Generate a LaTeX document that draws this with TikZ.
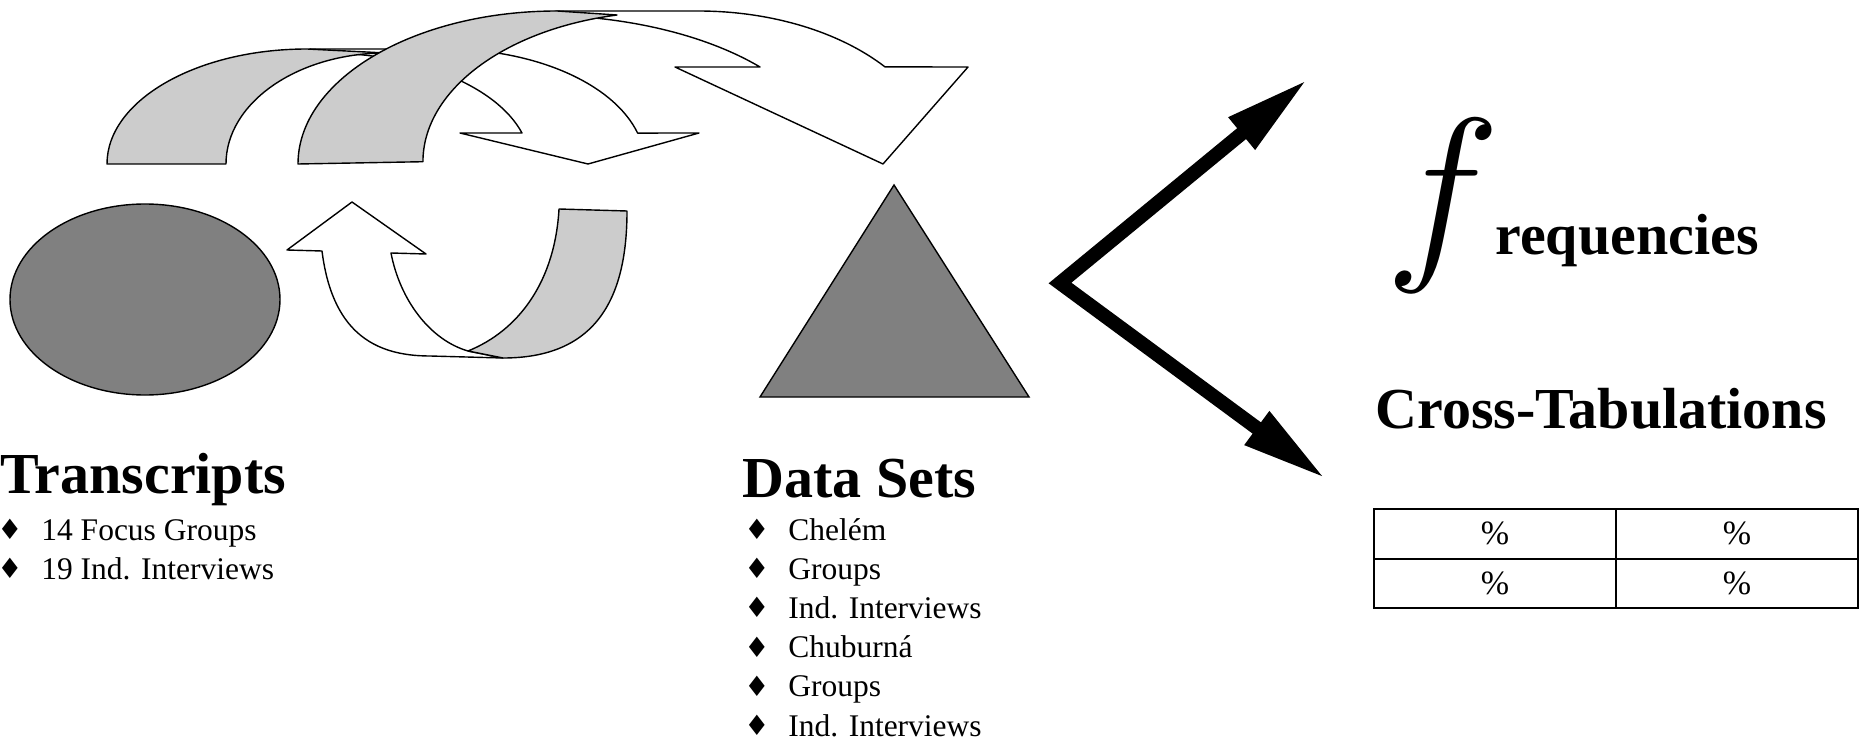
\documentclass[tikz,border=0pt]{standalone}
\usepackage{fix-cm}
\usepackage{fontspec}
\setmainfont{Liberation Serif}
\newfontfamily\djv{DejaVu Sans}
\usetikzlibrary{shapes.geometric,arrows.meta}
\definecolor{lgrey}{RGB}{204,204,204}
\definecolor{dgrey}{RGB}{128,128,128}
\newcommand{\dia}{\makebox[22pt][l]{\raisebox{0.3pt}{\fontsize{14}{14}\djv ♦}}}
\tikzset{every picture/.style={x=0.5pt,y=-0.5pt}}
\tikzset{band/.style={draw,line width=0.7pt,fill=white,line join=round}}
\tikzset{back/.style={band,fill=lgrey}}
\tikzset{blob/.style={draw,line width=0.7pt,fill=dgrey}}
\tikzset{head/.style={font=\fontsize{29}{30}\selectfont\bfseries,anchor=base west,inner sep=0}}
\tikzset{item/.style={font=\fontsize{15.75}{18}\selectfont,anchor=base west,inner sep=0}}
\tikzset{cell/.style={draw,line width=1pt,minimum width=121pt,minimum height=24.75pt,inner sep=0,font=\fontsize{17}{17}\selectfont}}
\tikzset{fork/.style={line width=7pt,line join=miter,{Triangle[length=43pt,width=19pt]}-{Triangle[length=43pt,width=19pt]}}}

\begin{document}
\begin{tikzpicture}
\useasboundingbox (0,0) rectangle (1861,743);

% curved arrows on top, back one first
\draw [band] (310,49) -- (445,49) arc[start angle=270,end angle=344.4,x radius=200,y radius=115]
  -- (699,133) -- (588,164) -- (460,133) -- (522,133)
  arc[start angle=343.8,end angle=270,x radius=206,y radius=111] -- cycle;
\draw [back] (107,164) arc[start angle=180,end angle=270,x radius=200,y radius=115]
  -- (386,53) arc[start angle=270,end angle=180,x radius=160,y radius=111] -- cycle;

\draw [band] (557,11) -- (698,11) arc[start angle=270,end angle=320.6,x radius=242,y radius=153]
  -- (968,67) -- (883,164) -- (675,67) -- (760,67)
  arc[start angle=319.3,end angle=270,x radius=293,y radius=149] -- cycle;
\draw [back] (298,164) arc[start angle=180,end angle=270,x radius=259,y radius=153]
  -- (617,15) arc[start angle=258,end angle=180,x radius=245,y radius=150] -- cycle;

% u-turn arrow
\draw [band] (287,250) -- (352,202) -- (426,254) -- (391,253)
  .. controls (400,300) and (430,340) .. (468,351) -- (503,358) -- (430,356)
  .. controls (372,356) and (332,330) .. (322,251) -- cycle;
\draw [back] (468,351) .. controls (520,330) and (555,280) .. (559,209) -- (627,211)
  .. controls (627,300) and (595,358) .. (503,358) -- cycle;

% shapes
\node [blob,ellipse,minimum width=135pt,minimum height=95.5pt,inner sep=0] (trans) at (145,299.5) {};
\coordinate (apex) at (894,185);
\coordinate (bl) at (760,397);
\coordinate (br) at (1029,397);
\draw [blob] (apex) -- (bl) -- (br) -- cycle;

% fork
\coordinate (fup) at (1308,79);
\coordinate (fv) at (1060,283);
\coordinate (fdn) at (1326,479);
\draw [fork] (fup) -- (fv) -- (fdn);

% labels
\node [head] (tr) at (0,493) {Transcripts};
\node [item] (tr1) at (-3,540) {\dia 14 Focus Groups};
\node [item] (tr2) at (-3,579.2) {\dia 19 Ind. Interviews};

\node [head] (ds) at (742,497) {Data Sets};
\node [item] (ds1) at (744,540) {\dia Chelém};
\node [item] (ds2) at (744,579.2) {\dia Groups};
\node [item] (ds3) at (744,618.4) {\dia Ind. Interviews};
\node [item] (ds4) at (744,657.6) {\dia Chuburná};
\node [item] (ds5) at (744,696.8) {\dia Groups};
\node [item] (ds6) at (744,736) {\dia Ind. Interviews};

\node [inner sep=0,anchor=base west,font=\fontsize{97.5}{98}\selectfont] (f) at (1385,255) {$f$};
\node [head] (freq) at (1495,255) {requencies};
\node [head] (xtab) at (1375,428) {Cross-Tabulations};

\node [cell] (c11) at (1495,533.75) {\%};
\node [cell] (c12) at (1737,533.75) {\%};
\node [cell] (c21) at (1495,583.25) {\%};
\node [cell] (c22) at (1737,583.25) {\%};
\end{tikzpicture}
\end{document}
